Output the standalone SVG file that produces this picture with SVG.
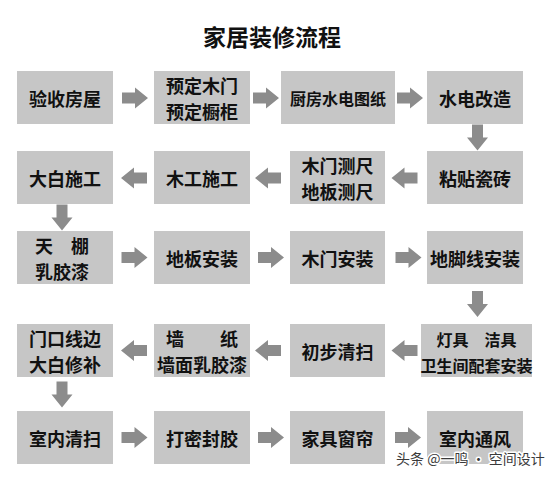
<svg xmlns="http://www.w3.org/2000/svg" xmlns:xlink="http://www.w3.org/1999/xlink" width="550" height="477" viewBox="0 0 550 477">
  <style>
    .box { fill: #c6c6c6; }
    .t { font-family: "Noto Sans CJK SC", "Noto Sans", sans-serif; font-weight: bold; font-size: 18px; fill: #111; text-anchor: middle; dominant-baseline: central; }
    .s16 { font-size: 16px; }
    .title { font-family: "Noto Sans CJK SC", "Noto Sans", sans-serif; font-weight: bold; font-size: 23px; fill: #111; text-anchor: middle; dominant-baseline: central; }
    .arrow { fill: #8c8c8c; }
    .wm { font-family: "Noto Sans CJK SC", "Noto Sans", sans-serif; font-size: 14px; fill: #3a3a3a; stroke: #ffffff; stroke-width: 3px; paint-order: stroke; stroke-linejoin: round; dominant-baseline: central; }
  </style>
  <defs>
    <path id="ar" d="M-13,-5.5 H0 V-10.5 L13,0 L0,10.5 V5.5 H-13 Z"/>
  </defs>
  <rect width="550" height="477" fill="#ffffff"/>

  <text class="title" x="272" y="36">家居装修流程</text>

  <!-- Row 1 -->
  <g id="n1"><rect class="box" x="17" y="71" width="96" height="53"/><text class="t" x="65" y="97.5">验收房屋</text></g>
  <g id="n2"><rect class="box" x="154" y="71" width="96" height="53"/><text class="t" x="202" y="85">预定木门</text><text class="t" x="202" y="111">预定橱柜</text></g>
  <g id="n3"><rect class="box" x="281" y="71" width="114" height="53"/><text class="t s16" x="338" y="97.5">厨房水电图纸</text></g>
  <g id="n4"><rect class="box" x="427" y="71" width="96" height="53"/><text class="t" x="475" y="97.5">水电改造</text></g>

  <!-- Row 2 -->
  <g id="n5"><rect class="box" x="427" y="151" width="96" height="53"/><text class="t" x="475" y="177.5">粘贴瓷砖</text></g>
  <g id="n6"><rect class="box" x="290" y="151" width="95" height="53"/><text class="t" x="337.5" y="165">木门测尺</text><text class="t" x="337.5" y="191">地板测尺</text></g>
  <g id="n7"><rect class="box" x="154" y="151" width="96" height="53"/><text class="t" x="202" y="177.5">木工施工</text></g>
  <g id="n8"><rect class="box" x="17" y="151" width="96" height="53"/><text class="t" x="65" y="177.5">大白施工</text></g>

  <!-- Row 3 -->
  <g id="n9"><rect class="box" x="17" y="231" width="96" height="53"/><text class="t" x="62" y="244.5">天　棚</text><text class="t" x="62" y="270.5">乳胶漆</text></g>
  <g id="n10"><rect class="box" x="154" y="231" width="96" height="53"/><text class="t" x="202" y="257.5">地板安装</text></g>
  <g id="n11"><rect class="box" x="290" y="231" width="95" height="53"/><text class="t" x="337.5" y="257.5">木门安装</text></g>
  <g id="n12"><rect class="box" x="427" y="231" width="96" height="53"/><text class="t" x="475" y="257.5">地脚线安装</text></g>

  <!-- Row 4 -->
  <g id="n13"><rect class="box" x="421" y="324" width="111" height="53"/><text class="t s16" x="476.5" y="338.5">灯具　洁具</text><text class="t s16" x="476.5" y="365">卫生间配套安装</text></g>
  <g id="n14"><rect class="box" x="290" y="324" width="95" height="53"/><text class="t" x="337.5" y="350.5">初步清扫</text></g>
  <g id="n15"><rect class="box" x="154" y="324" width="96" height="53"/><text class="t" x="202" y="338">墙　　纸</text><text class="t" x="202" y="364">墙面乳胶漆</text></g>
  <g id="n16"><rect class="box" x="17" y="324" width="96" height="53"/><text class="t" x="65" y="338">门口线边</text><text class="t" x="65" y="364">大白修补</text></g>

  <!-- Row 5 -->
  <g id="n17"><rect class="box" x="17" y="411" width="96" height="53"/><text class="t" x="65" y="437.5">室内清扫</text></g>
  <g id="n18"><rect class="box" x="154" y="411" width="96" height="53"/><text class="t" x="202" y="437.5">打密封胶</text></g>
  <g id="n19"><rect class="box" x="290" y="411" width="95" height="53"/><text class="t" x="337.5" y="437.5">家具窗帘</text></g>
  <g id="n20"><rect class="box" x="427" y="411" width="96" height="53"/><text class="t" x="475" y="437.5">室内通风</text></g>

  <!-- Connectors -->
  <g id="connectors" class="arrow">
    <use xlink:href="#ar" transform="translate(135,98)"/>
    <use xlink:href="#ar" transform="translate(266,98)"/>
    <use xlink:href="#ar" transform="translate(410,98)"/>
    <use xlink:href="#ar" transform="translate(477.5,137.5) rotate(90)"/>
    <use xlink:href="#ar" transform="translate(404.5,178) rotate(180)"/>
    <use xlink:href="#ar" transform="translate(268,178) rotate(180)"/>
    <use xlink:href="#ar" transform="translate(134,178) rotate(180)"/>
    <use xlink:href="#ar" transform="translate(62,217.5) rotate(90)"/>
    <use xlink:href="#ar" transform="translate(134.5,257.5)"/>
    <use xlink:href="#ar" transform="translate(271,257.5)"/>
    <use xlink:href="#ar" transform="translate(408.5,257.5)"/>
    <use xlink:href="#ar" transform="translate(477.5,304) rotate(90)"/>
    <use xlink:href="#ar" transform="translate(404.5,350.5) rotate(180)"/>
    <use xlink:href="#ar" transform="translate(268,350.5) rotate(180)"/>
    <use xlink:href="#ar" transform="translate(134,350.5) rotate(180)"/>
    <use xlink:href="#ar" transform="translate(62,394.5) rotate(90)"/>
    <use xlink:href="#ar" transform="translate(134.5,437.5)"/>
    <use xlink:href="#ar" transform="translate(271,437.5)"/>
    <use xlink:href="#ar" transform="translate(408,437.5)"/>
  </g>

  <text class="wm" x="396" y="458">头条 @一鸣 · 空间设计</text>
</svg>
